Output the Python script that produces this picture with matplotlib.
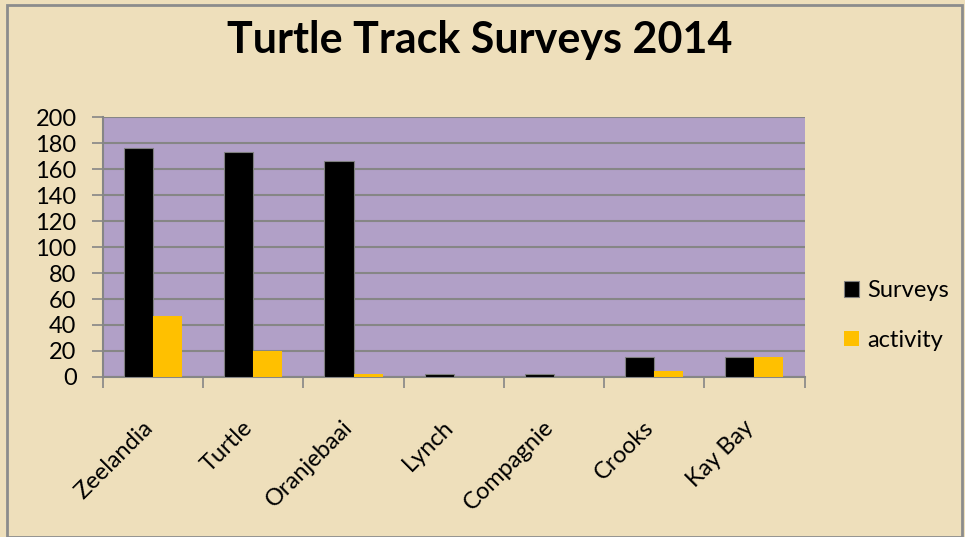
import numpy as np
import matplotlib.pyplot as plt
from matplotlib.patches import Rectangle
from matplotlib.transforms import ScaledTranslation

beaches = ["Zeelandia", "Turtle", "Oranjebaai", "Lynch", "Compagnie", "Crooks", "Kay Bay"]
surveys = [176, 173, 166, 2.5, 2.5, 15, 15]
activity = [47, 20, 2.5, 0, 0.3, 4.5, 15]
y_ticks = list(range(0, 201, 20))

plt.rcParams['font.family'] = ['Lato', 'DejaVu Sans']

fig = plt.figure(figsize=(9.65, 5.37), dpi=100)
fig.patch.set_facecolor("#EEDFBB")
fig.patches.append(Rectangle((0.007, 0.0), 0.99, 0.99, transform=fig.transFigure,
                             fill=False, edgecolor="#8C8C8C", linewidth=2))

ax = fig.add_axes([0.1067, 0.298, 0.727, 0.484])
ax.set_facecolor("#B1A0C7")

x = np.arange(len(beaches))
w = 0.29
ax.bar(x - w / 2, surveys, w, color="black", edgecolor="#7F7F7F", linewidth=0.8,
       label="Surveys", zorder=3)
ax.bar(x + w / 2, activity, w, color="#FFC000", label="activity", zorder=3)

ax.set_ylim(0, 200)
ax.set_xlim(-0.5, len(beaches) - 0.5)
ax.set_yticks(y_ticks)
ax.tick_params(axis="y", labelsize=17, length=8, width=1.2, color="#868686", pad=11)
ax.yaxis.grid(True, color="#868686", linewidth=1.5, zorder=1)

# ticks sit between categories, labels sit under each category
ax.set_xticks(np.arange(-0.5, len(beaches)), minor=False)
ax.set_xticklabels([])
ax.set_xticks(x, minor=True)
ax.set_xticklabels(beaches, minor=True, rotation=45, ha="right", va="center",
                   rotation_mode="anchor", fontsize=17)
ax.tick_params(axis="x", which="major", length=8, width=1.2, color="#868686")
ax.tick_params(axis="x", which="minor", length=0, pad=34)
shift = ScaledTranslation(-0.04, 0, fig.dpi_scale_trans)
for lbl in ax.get_xticklabels(minor=True):
    lbl.set_transform(lbl.get_transform() + shift)

for side in ["top", "right"]:
    ax.spines[side].set_visible(False)
for side in ["left", "bottom"]:
    ax.spines[side].set_color("#868686")
    ax.spines[side].set_linewidth(1.5)

fig.text(0.497, 0.925, "Turtle Track Surveys 2014", ha="center", va="center",
         fontsize=31, fontweight="bold")

ax.legend(loc="center left", bbox_to_anchor=(1.026, 0.237), frameon=False, fontsize=17,
          handlelength=0.62, handleheight=0.62, handletextpad=0.35, labelspacing=1.2)

fig.savefig("out.png", dpi=100, facecolor=fig.get_facecolor())
